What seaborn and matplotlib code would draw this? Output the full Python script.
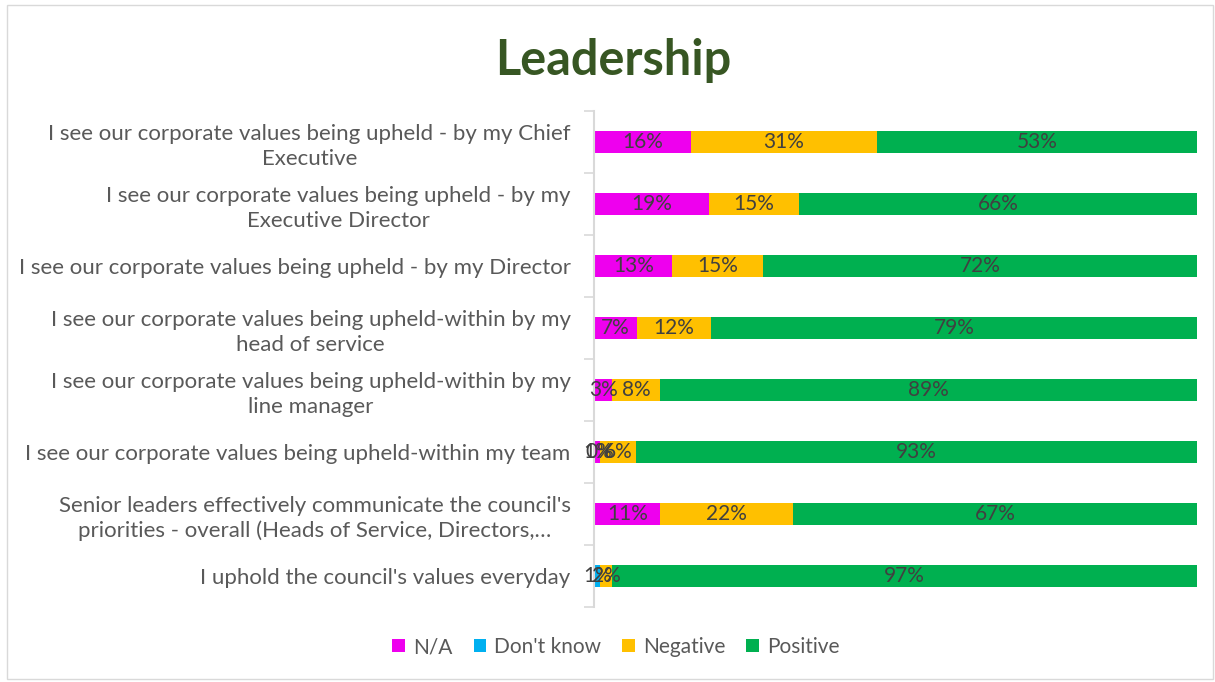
import numpy as np
import pandas as pd
import seaborn as sns
import matplotlib.pyplot as plt
from matplotlib.patches import Patch, Rectangle

# Data (percentages shown on the bars)
questions = [
    "I see our corporate values being upheld - by my Chief\nExecutive",
    "I see our corporate values being upheld - by my\nExecutive Director",
    "I see our corporate values being upheld - by my Director",
    "I see our corporate values being upheld-within by my\nhead of service",
    "I see our corporate values being upheld-within by my\nline manager",
    "I see our corporate values being upheld-within my team",
    "Senior leaders effectively communicate the council's\npriorities - overall (Heads of Service, Directors,\u2026",
    "I uphold the council's values everyday",
]
na_vals = [16, 19, 13, 7, 3, 1, 11, np.nan]
dont_know = [np.nan, np.nan, np.nan, np.nan, np.nan, 0, np.nan, 1]
negative = [31, 15, 15, 12, 8, 6, 22, 2]
positive = [53, 66, 72, 79, 89, 93, 67, 97]

series = ["N/A", "Don't know", "Negative", "Positive"]
colors = ["#EE00EE", "#00B0F0", "#FFC000", "#00B050"]

df = pd.DataFrame({"question": questions, "N/A": na_vals, "Don't know": dont_know,
                   "Negative": negative, "Positive": positive})

# 100% stacked: share of each row total, then cumulative
vals = df[series].fillna(0)
share = vals.div(vals.sum(axis=1), axis=0)
cum = share.cumsum(axis=1)

sns.set_theme(style="white")
plt.rcParams['font.family'] = ['Lato', 'DejaVu Sans']

fig, ax = plt.subplots(figsize=(12.15, 6.82), dpi=100)
fig.subplots_adjust(left=0.489, right=0.985, top=0.837, bottom=0.11)

# draw cumulative bars from the longest to the shortest so they stack
for name, col in reversed(list(zip(series, colors))):
    sns.barplot(x=cum[name], y=df["question"], orient="h", color=col,
                saturation=1, width=0.35, linewidth=0, ax=ax)

# data labels
for i in range(len(df)):
    for name in series:
        v = df.loc[i, name]
        if pd.isna(v):
            continue
        xc = cum.loc[i, name] - share.loc[i, name] / 2
        ax.text(xc, i, f"{int(v)}%", ha="center", va="center",
                fontsize=15, color="#404040")

ax.set_xlim(0, 1)
ax.set_ylim(len(df) - 0.5, -0.5)
ax.set_xlabel("")
ax.set_ylabel("")
ax.set_xticks([])
ax.set_yticks(range(len(df)))
ax.set_yticklabels(questions, fontsize=16, color="#595959", linespacing=1.3)
for t in ax.get_yticklabels():
    t.set_multialignment("center")
ax.tick_params(axis="y", which="major", length=0, pad=17)
ax.set_yticks(np.arange(-0.5, len(df), 1), minor=True)
ax.tick_params(axis="y", which="minor", length=7, color="#D9D9D9", width=1.2, left=True)

for s in ["top", "right", "bottom"]:
    ax.spines[s].set_visible(False)
ax.spines["left"].set_color("#D9D9D9")
ax.spines["left"].set_linewidth(1.5)

fig.text(0.505, 0.912, "Leadership", ha="center", va="center",
         fontsize=35, fontweight="bold", color="#375623")

handles = [Patch(facecolor=c, edgecolor="none") for c in colors]
fig.legend(handles, series, loc="center", bbox_to_anchor=(0.507, 0.051), ncol=4,
           frameon=False, fontsize=15, handlelength=0.6, handleheight=0.6,
           handletextpad=0.4, columnspacing=1.0, labelcolor="#595959")

fig.patches.append(Rectangle((0.006, 0.005), 0.992, 0.988, transform=fig.transFigure,
                             fill=False, edgecolor="#D9D9D9", linewidth=1))

fig.savefig("out.png", dpi=100)
